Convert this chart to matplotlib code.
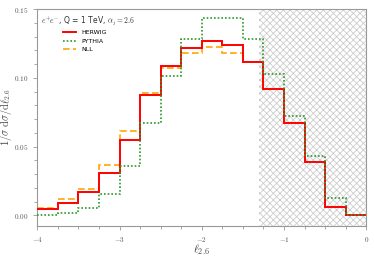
"""
Generalised angularity l_2.6 distribution: HERWIG / PYTHIA vs NLL.
"""
import matplotlib
matplotlib.use("Agg")
import matplotlib.pyplot as plt
import numpy as np
from matplotlib.ticker import MultipleLocator

plt.rcParams["mathtext.fontset"] = "cm"
plt.rcParams["hatch.linewidth"] = 0.6

# bin edges in l_2.6
edges = np.arange(-4.0, 0.001, 0.25)

herwig = [0.0047, 0.0091, 0.0169, 0.0305, 0.0545, 0.0873, 0.1085, 0.1219,
          0.1267, 0.1240, 0.1117, 0.0922, 0.0674, 0.0385, 0.0060, 0.0004]
pythia = [0.0004, 0.0016, 0.0055, 0.0152, 0.0358, 0.0672, 0.1012, 0.1286,
          0.1437, 0.1437, 0.1284, 0.1029, 0.0723, 0.0429, 0.0125, 0.0004]
# NLL only shown up to -1.25
nll = [0.0052, 0.0122, 0.0188, 0.0366, 0.0616, 0.0890, 0.1073, 0.1182,
       0.1223, 0.1182, 0.1114]

hatch_from = -1.3

fig = plt.figure(figsize=(3.74, 2.56), dpi=100)
ax = fig.add_axes([0.10, 0.117, 0.879, 0.847])

ax.axvspan(hatch_from, 0.0, facecolor="none", edgecolor="#cccccc",
           hatch="xxxxx", linewidth=0, zorder=0)

ax.stairs(herwig, edges, baseline=None, color="red", linewidth=1.4,
          label="HERWIG", zorder=3)
ax.stairs(pythia, edges, baseline=None, color="#2a9a2a", linewidth=1.2,
          linestyle=(0, (1, 1.2)), label="PYTHIA", zorder=4)
ax.stairs(nll, edges[:len(nll) + 1], baseline=None, color="orange", linewidth=1.2,
          linestyle=(0, (4, 2)), label="NLL", zorder=2)

ax.set_xlim(-4, 0)
ax.set_ylim(-0.0078, 0.15)
ax.xaxis.set_major_locator(MultipleLocator(1))
ax.xaxis.set_minor_locator(MultipleLocator(0.25))
ax.yaxis.set_major_locator(MultipleLocator(0.05))
ax.yaxis.set_minor_locator(MultipleLocator(0.01))
ax.xaxis.set_major_formatter(plt.FuncFormatter(lambda v, p: r"$%d$" % round(v)))
ax.yaxis.set_major_formatter(plt.FuncFormatter(lambda v, p: r"$%.2f$" % v))

for side in ["top", "right", "left", "bottom"]:
    ax.spines[side].set_color("#999999")
ax.tick_params(which="both", direction="out", colors="#999999", labelcolor="#555555",
               labelsize=5.2, width=0.6)
ax.tick_params(which="major", length=3)
ax.tick_params(which="minor", length=2.5)

ax.set_xlabel(r"$\ell_{2.6}$", fontsize=8.5, color="#444444", labelpad=-1)
ax.set_ylabel(r"$1/\sigma\ \mathrm{d}\sigma/\mathrm{d}\ell_{2.6}$", fontsize=7.5,
              color="#444444", labelpad=0)

ax.text(0.012, 0.975, r"$e^{+}e^{-}$, Q = 1 TeV, $\alpha_j = 2.6$",
        transform=ax.transAxes, fontsize=5.5, va="top", ha="left", color="#333333")
ax.legend(loc="upper left", bbox_to_anchor=(0.06, 0.93), frameon=False,
          fontsize=4.5, handlelength=2.2, labelspacing=0.5)

fig.savefig("out.png", dpi=100)
